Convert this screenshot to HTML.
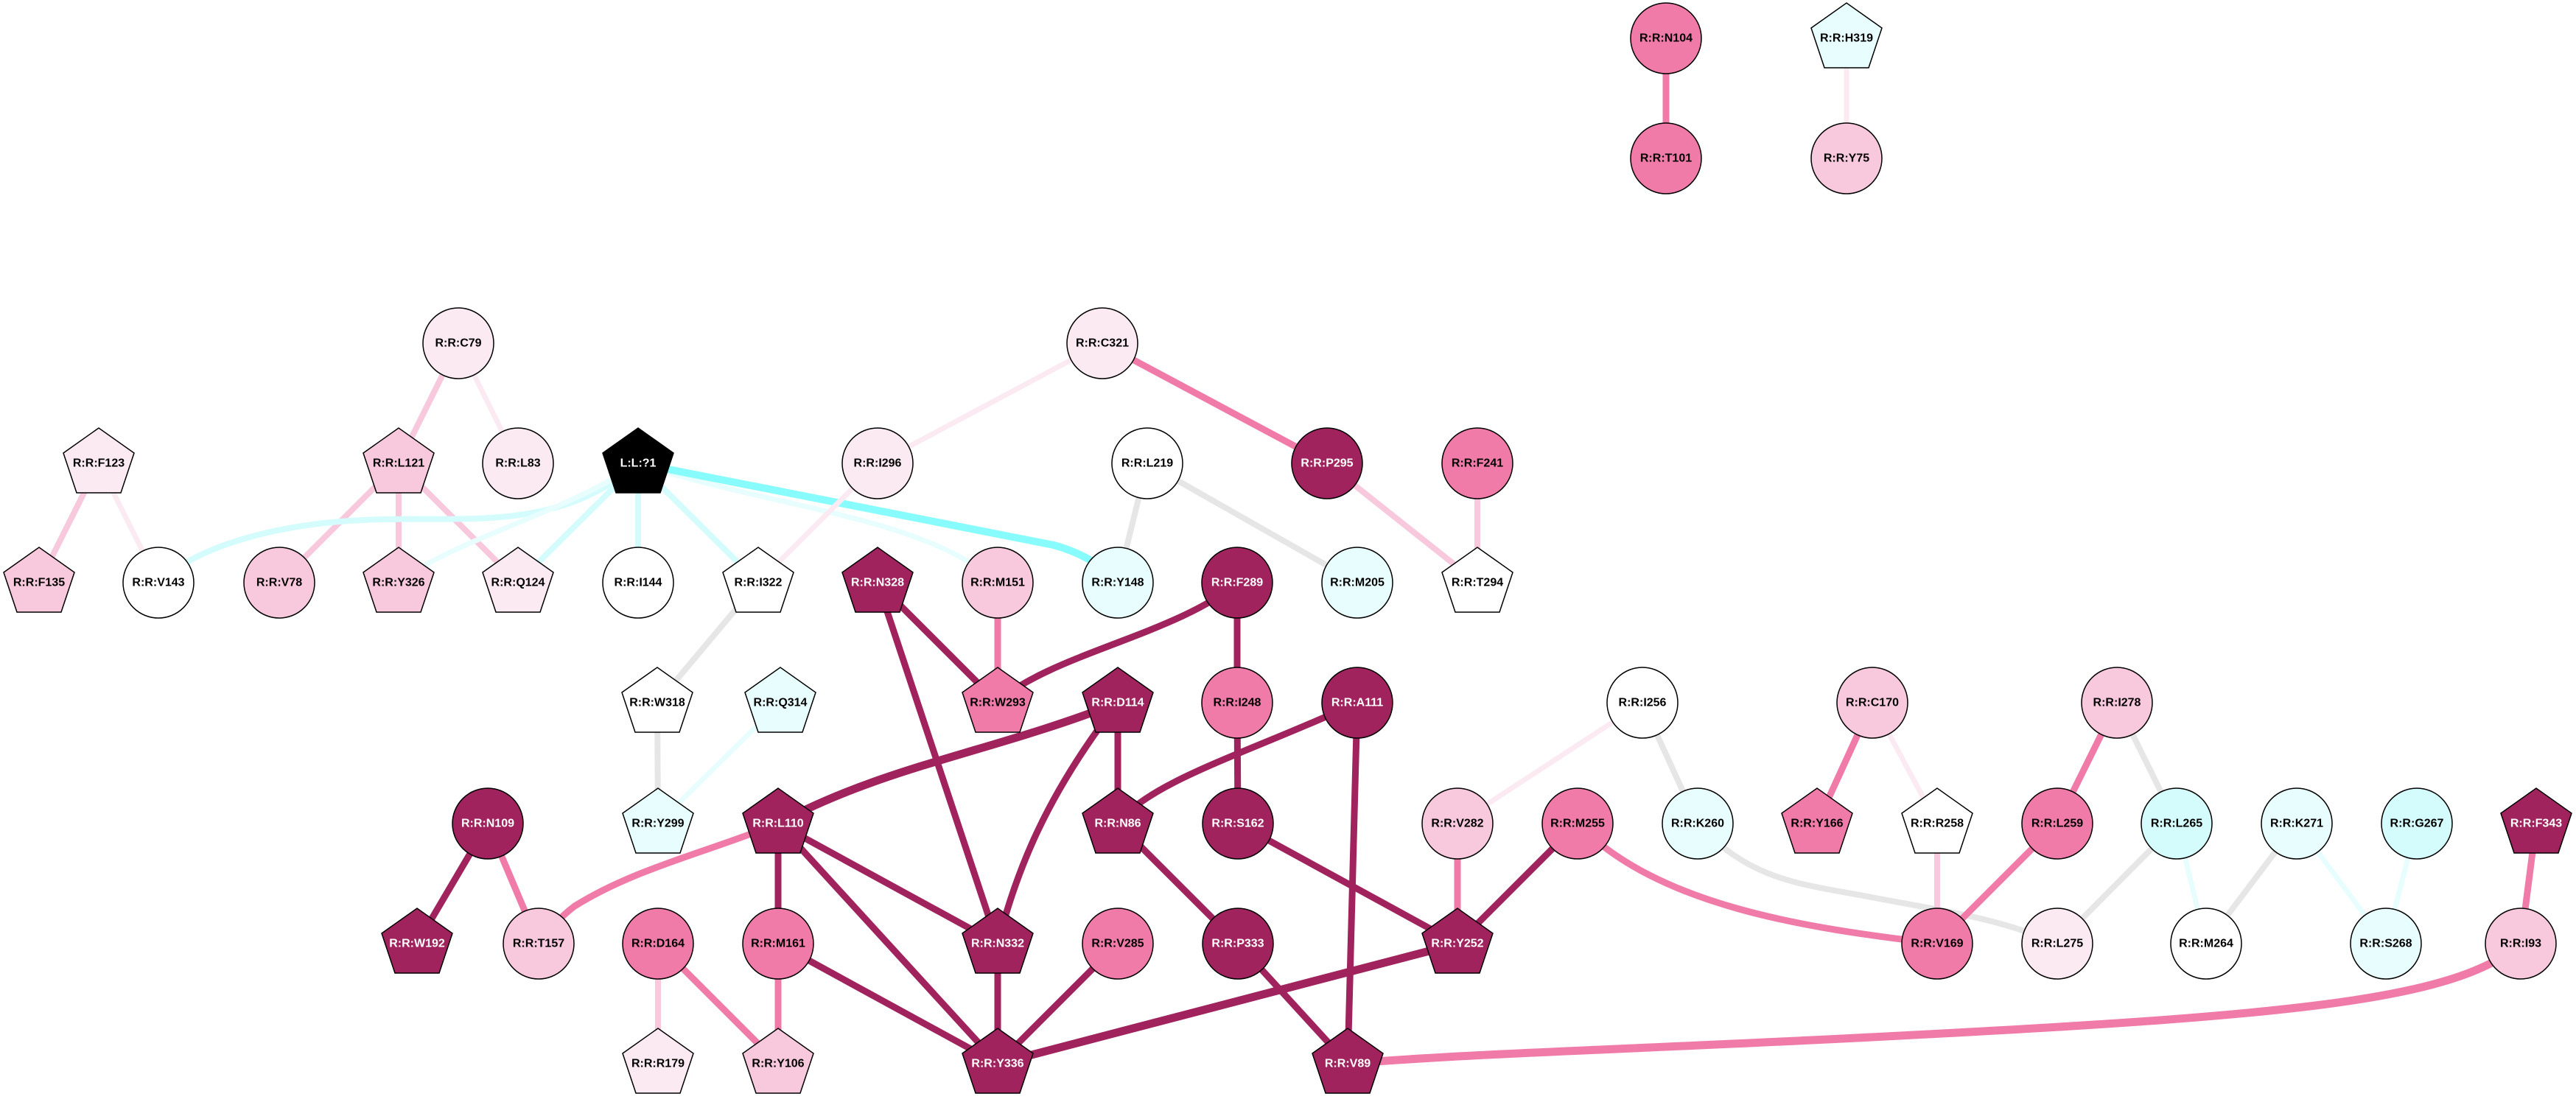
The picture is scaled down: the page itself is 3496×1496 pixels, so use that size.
<!DOCTYPE html>
<html><head><meta charset="utf-8"><style>
html,body{margin:0;padding:0;background:#fff}
svg{display:block}
text{font-family:"Liberation Sans",Arial,sans-serif;font-weight:bold;font-size:16px;text-anchor:middle;dominant-baseline:central}
.w{fill:#fff}
.n{stroke:#000;stroke-width:1.5}
path,line{fill:none;stroke-linecap:butt}
.D{stroke:#a0235e;stroke-width:9}
.DT{stroke:#a0235e;stroke-width:11}
.M{stroke:#f07ba9;stroke-width:9}
.MT{stroke:#f07ba9;stroke-width:11}
.LP{stroke:#f8c8dc;stroke-width:8}
.VL{stroke:#fbeaf2;stroke-width:7}
.G{stroke:#e6e6e6;stroke-width:8}
.CY{stroke:#88fcfc;stroke-width:10}
.LC{stroke:#d4fcfc;stroke-width:8}
.VC{stroke:#e8fefe;stroke-width:7}
</style></head><body>
<svg width="3496" height="1496" viewBox="0 0 3496 1496" xmlns="http://www.w3.org/2000/svg">
<!-- edges -->
<line class="M" x1="2261" y1="52" x2="2261" y2="215"/>
<line class="VL" x1="2506" y1="52" x2="2506" y2="215"/>
<line class="LP" x1="622" y1="466" x2="541" y2="629"/>
<line class="VL" x1="622" y1="466" x2="703" y2="629"/>
<line class="LP" x1="134" y1="629" x2="53" y2="791"/>
<line class="VL" x1="134" y1="629" x2="215" y2="791"/>
<line class="LP" x1="541" y1="629" x2="379" y2="791"/>
<line class="LP" x1="541" y1="629" x2="541" y2="791"/>
<line class="LP" x1="541" y1="629" x2="703" y2="791"/>
<path class="LC" d="M866,629 C760,720 640,702 520,705 C380,708 270,740 215,791"/>
<path class="VC" d="M866,629 C760,700 620,730 541,791"/>
<line class="LC" x1="866" y1="629" x2="703" y2="791"/>
<line class="LC" x1="866" y1="629" x2="866" y2="791"/>
<line class="LC" x1="866" y1="629" x2="1029" y2="791"/>
<path class="VC" d="M866,629 C1050,690 1250,700 1354,791"/>
<path class="CY" d="M866,629 L1430,740 Q1485,755 1517,791"/>
<line class="VL" x1="1496" y1="466" x2="1191" y2="629"/>
<line class="M" x1="1496" y1="466" x2="1801" y2="629"/>
<line class="VL" x1="1191" y1="629" x2="1029" y2="791"/>
<line class="G" x1="1557" y1="629" x2="1517" y2="791"/>
<line class="G" x1="1557" y1="629" x2="1842" y2="791"/>
<line class="LP" x1="1801" y1="629" x2="2005" y2="791"/>
<line class="LP" x1="2005" y1="629" x2="2005" y2="791"/>
<line class="G" x1="1029" y1="791" x2="892" y2="954"/>
<line class="G" x1="892" y1="954" x2="893" y2="1118"/>
<line class="VC" x1="1059" y1="954" x2="893" y2="1118"/>
<line class="D" x1="1191" y1="791" x2="1354" y2="954"/>
<line class="D" x1="1191" y1="791" x2="1354" y2="1281"/>
<line class="M" x1="1354" y1="791" x2="1354" y2="954"/>
<path class="D" d="M1679,791 C1600,860 1420,890 1354,954"/>
<line class="D" x1="1679" y1="791" x2="1679" y2="954"/>
<path class="DT" d="M1517,954 C1350,1020 1200,1040 1056,1118"/>
<line class="D" x1="1517" y1="954" x2="1517" y2="1118"/>
<path class="D" d="M1517,954 C1420,1080 1380,1180 1354,1281"/>
<line class="D" x1="1679" y1="954" x2="1680" y2="1118"/>
<path class="D" d="M1842,954 C1700,1020 1560,1060 1517,1118"/>
<line class="D" x1="1842" y1="954" x2="1829" y2="1444"/>
<line class="VL" x1="2229" y1="954" x2="1978" y2="1118"/>
<line class="G" x1="2229" y1="954" x2="2304" y2="1118"/>
<line class="M" x1="2541" y1="954" x2="2466" y2="1118"/>
<line class="VL" x1="2541" y1="954" x2="2629" y2="1118"/>
<line class="M" x1="2873" y1="954" x2="2792" y2="1118"/>
<line class="G" x1="2873" y1="954" x2="2954" y2="1118"/>
<line class="D" x1="662" y1="1118" x2="566" y2="1281"/>
<line class="M" x1="662" y1="1118" x2="731" y2="1281"/>
<path class="M" d="M1056,1118 C950,1160 860,1180 780,1230 C760,1245 745,1262 731,1281"/>
<line class="D" x1="1056" y1="1118" x2="1056" y2="1281"/>
<line class="D" x1="1056" y1="1118" x2="1354" y2="1281"/>
<line class="D" x1="1056" y1="1118" x2="1354" y2="1444"/>
<line class="D" x1="1517" y1="1118" x2="1680" y2="1281"/>
<line class="D" x1="1680" y1="1118" x2="1978" y2="1281"/>
<line class="M" x1="1978" y1="1118" x2="1978" y2="1281"/>
<line class="D" x1="2141" y1="1118" x2="1978" y2="1281"/>
<path class="M" d="M2141,1118 C2250,1230 2450,1260 2629,1281"/>
<path class="G" d="M2304,1118 C2380,1200 2450,1200 2550,1220 C2660,1240 2720,1250 2792,1281"/>
<line class="LP" x1="2629" y1="1118" x2="2629" y2="1281"/>
<line class="M" x1="2792" y1="1118" x2="2629" y2="1281"/>
<line class="G" x1="2954" y1="1118" x2="2792" y2="1281"/>
<line class="VC" x1="2954" y1="1118" x2="2994" y2="1281"/>
<line class="G" x1="3117" y1="1118" x2="2994" y2="1281"/>
<line class="VC" x1="3117" y1="1118" x2="3238" y2="1281"/>
<line class="VC" x1="3280" y1="1118" x2="3238" y2="1281"/>
<line class="M" x1="3442" y1="1118" x2="3421" y2="1281"/>
<line class="LP" x1="893" y1="1281" x2="893" y2="1444"/>
<line class="M" x1="893" y1="1281" x2="1056" y2="1444"/>
<line class="M" x1="1056" y1="1281" x2="1056" y2="1444"/>
<line class="D" x1="1056" y1="1281" x2="1354" y2="1444"/>
<line class="D" x1="1354" y1="1281" x2="1354" y2="1444"/>
<line class="D" x1="1517" y1="1281" x2="1354" y2="1444"/>
<line class="DT" x1="1978" y1="1281" x2="1354" y2="1444"/>
<line class="D" x1="1680" y1="1281" x2="1829" y2="1444"/>
<path class="MT" d="M3421,1281 C3330,1360 3100,1380 2500,1410 C2200,1425 2000,1430 1829,1444"/>

<!-- nodes -->
<g class="n">
<ellipse cx="2261" cy="52" rx="48" ry="48" fill="#f07ba9"/>
<ellipse cx="2261" cy="215" rx="48" ry="48" fill="#f07ba9"/>
<polygon points="2458,38 2506,4 2554,38 2536,92 2476,92" fill="#e8fefe"/>
<ellipse cx="2506" cy="215" rx="48" ry="48" fill="#f8c8dc"/>
<ellipse cx="622" cy="466" rx="48" ry="48" fill="#fbeaf2"/>
<ellipse cx="1496" cy="466" rx="48" ry="48" fill="#fbeaf2"/>
<polygon points="86,615 134,581 182,615 164,669 104,669" fill="#fbeaf2"/>
<polygon points="493,615 541,581 589,615 571,669 511,669" fill="#f8c8dc"/>
<ellipse cx="703" cy="629" rx="48" ry="48" fill="#fbeaf2"/>
<polygon points="818,615 866,581 914,615 896,669 836,669" fill="#000"/>
<ellipse cx="1191" cy="629" rx="48" ry="48" fill="#fbeaf2"/>
<ellipse cx="1557" cy="629" rx="48" ry="48" fill="#fff"/>
<ellipse cx="1801" cy="629" rx="48" ry="48" fill="#a0235e"/>
<ellipse cx="2005" cy="629" rx="48" ry="48" fill="#f07ba9"/>
<polygon points="5,777 53,743 101,777 83,831 23,831" fill="#f8c8dc"/>
<ellipse cx="215" cy="791" rx="48" ry="48" fill="#fff"/>
<ellipse cx="379" cy="791" rx="48" ry="48" fill="#f8c8dc"/>
<polygon points="493,777 541,743 589,777 571,831 511,831" fill="#f8c8dc"/>
<polygon points="655,777 703,743 751,777 733,831 673,831" fill="#fbeaf2"/>
<ellipse cx="866" cy="791" rx="48" ry="48" fill="#fff"/>
<polygon points="981,777 1029,743 1077,777 1059,831 999,831" fill="#fff"/>
<polygon points="1143,777 1191,743 1239,777 1221,831 1161,831" fill="#a0235e"/>
<ellipse cx="1354" cy="791" rx="48" ry="48" fill="#f8c8dc"/>
<ellipse cx="1517" cy="791" rx="48" ry="48" fill="#e8fefe"/>
<ellipse cx="1679" cy="791" rx="48" ry="48" fill="#a0235e"/>
<ellipse cx="1842" cy="791" rx="48" ry="48" fill="#e8fefe"/>
<polygon points="1957,777 2005,743 2053,777 2035,831 1975,831" fill="#fff"/>
<polygon points="844,940 892,906 940,940 922,994 862,994" fill="#fff"/>
<polygon points="1011,940 1059,906 1107,940 1089,994 1029,994" fill="#e8fefe"/>
<polygon points="1306,940 1354,906 1402,940 1384,994 1324,994" fill="#f07ba9"/>
<polygon points="1469,940 1517,906 1565,940 1547,994 1487,994" fill="#a0235e"/>
<ellipse cx="1679" cy="954" rx="48" ry="48" fill="#f07ba9"/>
<ellipse cx="1842" cy="954" rx="48" ry="48" fill="#a0235e"/>
<ellipse cx="2229" cy="954" rx="48" ry="48" fill="#fff"/>
<ellipse cx="2541" cy="954" rx="48" ry="48" fill="#f8c8dc"/>
<ellipse cx="2873" cy="954" rx="48" ry="48" fill="#f8c8dc"/>
<ellipse cx="662" cy="1118" rx="48" ry="48" fill="#a0235e"/>
<polygon points="845,1104 893,1070 941,1104 923,1158 863,1158" fill="#e8fefe"/>
<polygon points="1008,1104 1056,1070 1104,1104 1086,1158 1026,1158" fill="#a0235e"/>
<polygon points="1469,1104 1517,1070 1565,1104 1547,1158 1487,1158" fill="#a0235e"/>
<ellipse cx="1680" cy="1118" rx="48" ry="48" fill="#a0235e"/>
<ellipse cx="1978" cy="1118" rx="48" ry="48" fill="#f8c8dc"/>
<ellipse cx="2141" cy="1118" rx="48" ry="48" fill="#f07ba9"/>
<ellipse cx="2304" cy="1118" rx="48" ry="48" fill="#e8fefe"/>
<polygon points="2418,1104 2466,1070 2514,1104 2496,1158 2436,1158" fill="#f07ba9"/>
<polygon points="2581,1104 2629,1070 2677,1104 2659,1158 2599,1158" fill="#fff"/>
<ellipse cx="2792" cy="1118" rx="48" ry="48" fill="#f07ba9"/>
<ellipse cx="2954" cy="1118" rx="48" ry="48" fill="#d4fcfc"/>
<ellipse cx="3117" cy="1118" rx="48" ry="48" fill="#e8fefe"/>
<ellipse cx="3280" cy="1118" rx="48" ry="48" fill="#d4fcfc"/>
<polygon points="3394,1104 3442,1070 3490,1104 3472,1158 3412,1158" fill="#a0235e"/>
<polygon points="518,1267 566,1233 614,1267 596,1321 536,1321" fill="#a0235e"/>
<ellipse cx="731" cy="1281" rx="48" ry="48" fill="#f8c8dc"/>
<ellipse cx="893" cy="1281" rx="48" ry="48" fill="#f07ba9"/>
<ellipse cx="1056" cy="1281" rx="48" ry="48" fill="#f07ba9"/>
<polygon points="1306,1267 1354,1233 1402,1267 1384,1321 1324,1321" fill="#a0235e"/>
<ellipse cx="1517" cy="1281" rx="48" ry="48" fill="#f07ba9"/>
<ellipse cx="1680" cy="1281" rx="48" ry="48" fill="#a0235e"/>
<polygon points="1930,1267 1978,1233 2026,1267 2008,1321 1948,1321" fill="#a0235e"/>
<ellipse cx="2629" cy="1281" rx="48" ry="48" fill="#f07ba9"/>
<ellipse cx="2792" cy="1281" rx="48" ry="48" fill="#fbeaf2"/>
<ellipse cx="2994" cy="1281" rx="48" ry="48" fill="#fff"/>
<ellipse cx="3238" cy="1281" rx="48" ry="48" fill="#e8fefe"/>
<ellipse cx="3421" cy="1281" rx="48" ry="48" fill="#f8c8dc"/>
<polygon points="845,1430 893,1396 941,1430 923,1484 863,1484" fill="#fbeaf2"/>
<polygon points="1008,1430 1056,1396 1104,1430 1086,1484 1026,1484" fill="#f8c8dc"/>
<polygon points="1306,1430 1354,1396 1402,1430 1384,1484 1324,1484" fill="#a0235e"/>
<polygon points="1781,1430 1829,1396 1877,1430 1859,1484 1799,1484" fill="#a0235e"/>
</g>

<!-- labels -->
<text x="2261" y="52">R:R:N104</text>
<text x="2261" y="215">R:R:T101</text>
<text x="2506" y="52">R:R:H319</text>
<text x="2506" y="215">R:R:Y75</text>
<text x="622" y="466">R:R:C79</text>
<text x="1496" y="466">R:R:C321</text>
<text x="134" y="629">R:R:F123</text>
<text x="541" y="629">R:R:L121</text>
<text x="703" y="629">R:R:L83</text>
<text class="w" x="866" y="629">L:L:?1</text>
<text x="1191" y="629">R:R:I296</text>
<text x="1557" y="629">R:R:L219</text>
<text class="w" x="1801" y="629">R:R:P295</text>
<text x="2005" y="629">R:R:F241</text>
<text x="53" y="791">R:R:F135</text>
<text x="215" y="791">R:R:V143</text>
<text x="379" y="791">R:R:V78</text>
<text x="541" y="791">R:R:Y326</text>
<text x="703" y="791">R:R:Q124</text>
<text x="866" y="791">R:R:I144</text>
<text x="1029" y="791">R:R:I322</text>
<text class="w" x="1191" y="791">R:R:N328</text>
<text x="1354" y="791">R:R:M151</text>
<text x="1517" y="791">R:R:Y148</text>
<text class="w" x="1679" y="791">R:R:F289</text>
<text x="1842" y="791">R:R:M205</text>
<text x="2005" y="791">R:R:T294</text>
<text x="892" y="954">R:R:W318</text>
<text x="1059" y="954">R:R:Q314</text>
<text x="1354" y="954">R:R:W293</text>
<text class="w" x="1517" y="954">R:R:D114</text>
<text x="1679" y="954">R:R:I248</text>
<text class="w" x="1842" y="954">R:R:A111</text>
<text x="2229" y="954">R:R:I256</text>
<text x="2541" y="954">R:R:C170</text>
<text x="2873" y="954">R:R:I278</text>
<text class="w" x="662" y="1118">R:R:N109</text>
<text x="893" y="1118">R:R:Y299</text>
<text class="w" x="1056" y="1118">R:R:L110</text>
<text class="w" x="1517" y="1118">R:R:N86</text>
<text class="w" x="1680" y="1118">R:R:S162</text>
<text x="1978" y="1118">R:R:V282</text>
<text x="2141" y="1118">R:R:M255</text>
<text x="2304" y="1118">R:R:K260</text>
<text x="2466" y="1118">R:R:Y166</text>
<text x="2629" y="1118">R:R:R258</text>
<text x="2792" y="1118">R:R:L259</text>
<text x="2954" y="1118">R:R:L265</text>
<text x="3117" y="1118">R:R:K271</text>
<text x="3280" y="1118">R:R:G267</text>
<text class="w" x="3442" y="1118">R:R:F343</text>
<text class="w" x="566" y="1281">R:R:W192</text>
<text x="731" y="1281">R:R:T157</text>
<text x="893" y="1281">R:R:D164</text>
<text x="1056" y="1281">R:R:M161</text>
<text class="w" x="1354" y="1281">R:R:N332</text>
<text x="1517" y="1281">R:R:V285</text>
<text class="w" x="1680" y="1281">R:R:P333</text>
<text class="w" x="1978" y="1281">R:R:Y252</text>
<text x="2629" y="1281">R:R:V169</text>
<text x="2792" y="1281">R:R:L275</text>
<text x="2994" y="1281">R:R:M264</text>
<text x="3238" y="1281">R:R:S268</text>
<text x="3421" y="1281">R:R:I93</text>
<text x="893" y="1444">R:R:R179</text>
<text x="1056" y="1444">R:R:Y106</text>
<text class="w" x="1354" y="1444">R:R:Y336</text>
<text class="w" x="1829" y="1444">R:R:V89</text>
</svg>
</body></html>
